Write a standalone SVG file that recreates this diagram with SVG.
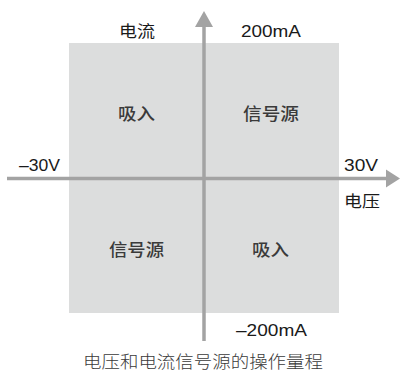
<svg xmlns="http://www.w3.org/2000/svg" width="400" height="374" viewBox="0 0 400 374">
<style>
.lat{font-family:"Liberation Sans",Arial,sans-serif;font-size:16.5px;fill:#1a1a1a}
.cjk{font-family:"Noto Sans CJK SC","Liberation Sans",sans-serif;font-size:16px;fill:#1a1a1a}
.q{font-family:"Noto Sans CJK SC","Liberation Sans",sans-serif;font-size:16.5px;fill:#3a3a3a;font-weight:500}
.cap{font-family:"Noto Sans CJK SC","Liberation Sans",sans-serif;font-size:17px;fill:#3a3a3a;font-weight:300}
.ax{stroke:#a3a3a3;stroke-width:3.5;fill:none}
</style>
<rect id="region" x="69" y="43" width="270" height="270" fill="#dcdddd"/>
<g id="connectors">
<line class="ax" x1="7" y1="178.5" x2="388" y2="178.5"/>
<polygon points="386,169.5 400,178.5 386,187.5" fill="#a3a3a3"/>
<line class="ax" x1="204" y1="25" x2="204" y2="341"/>
<polygon points="195,27 204,11 213,27" fill="#a3a3a3"/>
</g>
<g id="q1"><text class="q" x="243" y="120" textLength="56" lengthAdjust="spacingAndGlyphs">信号源</text></g>
<g id="q2"><text class="q" x="118" y="120" textLength="37" lengthAdjust="spacingAndGlyphs">吸入</text></g>
<g id="q3"><text class="q" x="109" y="256" textLength="55" lengthAdjust="spacingAndGlyphs">信号源</text></g>
<g id="q4"><text class="q" x="252" y="256" textLength="37" lengthAdjust="spacingAndGlyphs">吸入</text></g>
<g id="labels">
<text class="cjk" x="119" y="37" textLength="36" lengthAdjust="spacingAndGlyphs">电流</text>
<text class="lat" x="241" y="37" textLength="60" lengthAdjust="spacingAndGlyphs">200mA</text>
<text class="lat" x="19" y="170.5" textLength="41" lengthAdjust="spacingAndGlyphs">–30V</text>
<text class="lat" x="344" y="170.5" textLength="34" lengthAdjust="spacingAndGlyphs">30V</text>
<text class="cjk" x="344" y="207" textLength="36" lengthAdjust="spacingAndGlyphs">电压</text>
<text class="lat" x="236" y="336" textLength="71" lengthAdjust="spacingAndGlyphs">–200mA</text>
<text class="cap" x="83" y="368" textLength="240" lengthAdjust="spacingAndGlyphs">电压和电流信号源的操作量程</text>
</g>
</svg>
